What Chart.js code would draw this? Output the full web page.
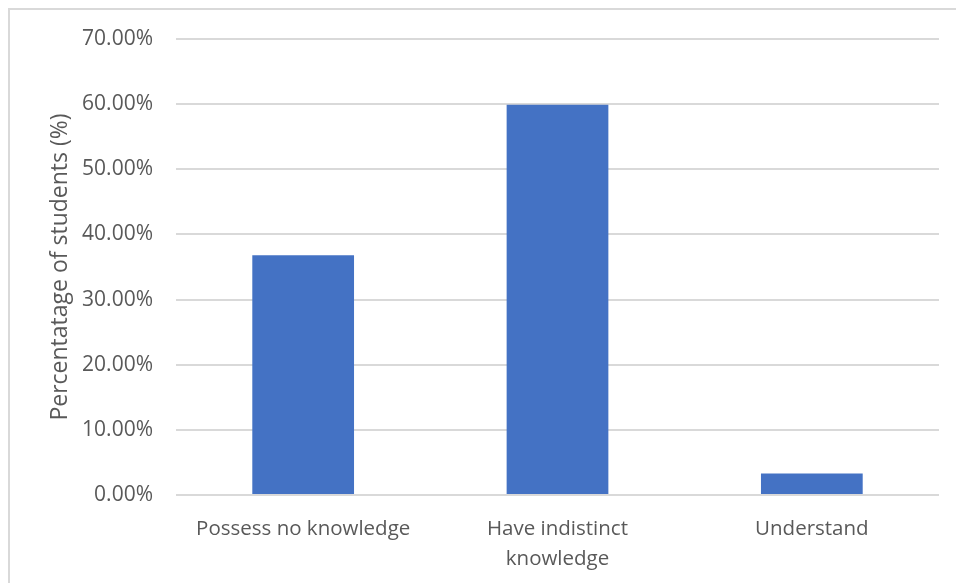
<!DOCTYPE html>
<html>
<head>
<meta charset="utf-8">
<script src="https://cdn.jsdelivr.net/npm/chart.js@4/dist/chart.umd.min.js"></script>
<style>
  html, body { margin: 0; padding: 0; background: #fff; }
  #wrap { position: relative; width: 956px; height: 583px; overflow: hidden; }
  #frame { position: absolute; left: 8px; top: 8px; width: 1000px; height: 1000px; border: 2px solid #d9d9d9; box-sizing: border-box; }
  canvas { position: absolute; left: 0; top: 0; }
</style>
</head>
<body>
<div id="wrap">
  <div id="frame"></div>
  <canvas id="c" width="956" height="583"></canvas>
</div>
<script>
const categories = ['Possess no knowledge', ['Have indistinct', 'knowledge'], 'Understand'];
const percentStudents = [36.8, 59.9, 3.3];
const yTicks = [0, 10, 20, 30, 40, 50, 60, 70];

const FONT = "'Open Sans', 'Noto Sans', sans-serif";

new Chart(document.getElementById('c'), {
  type: 'bar',
  data: {
    labels: categories,
    datasets: [{
      data: percentStudents,
      backgroundColor: '#4472C4',
      borderWidth: 0,
      categoryPercentage: 1.0,
      barPercentage: 0.4
    }]
  },
  options: {
    responsive: false,
    animation: false,
    devicePixelRatio: 1,
    layout: { padding: { left: 0, top: 39, right: 17, bottom: 0 } },
    plugins: { legend: { display: false }, tooltip: { enabled: false } },
    scales: {
      x: {
        grid: { display: false },
        border: { display: false },
        ticks: {
          color: '#595959',
          font: { family: FONT, size: 20.5, lineHeight: 1.46 },
          padding: 11,
          maxRotation: 0,
          autoSkip: false
        },
        afterFit: (s) => { s.height = 88; }
      },
      y: {
        min: 0,
        max: 70,
        afterBuildTicks: (s) => { s.ticks = yTicks.map(v => ({ value: v })); },
        grid: { color: '#d9d9d9', lineWidth: 2, drawTicks: false },
        border: { display: false },
        ticks: {
          color: '#595959',
          font: { family: FONT, size: 21 },
          padding: 23,
          callback: (v) => v.toFixed(2) + '%'
        },
        title: {
          display: true,
          text: 'Percentatage of students (%)',
          color: '#595959',
          font: { family: FONT, size: 23 },
          padding: { top: 47, bottom: 0 }
        },
        afterFit: (s) => { s.width = 176; }
      }
    }
  }
});
</script>
</body>
</html>
